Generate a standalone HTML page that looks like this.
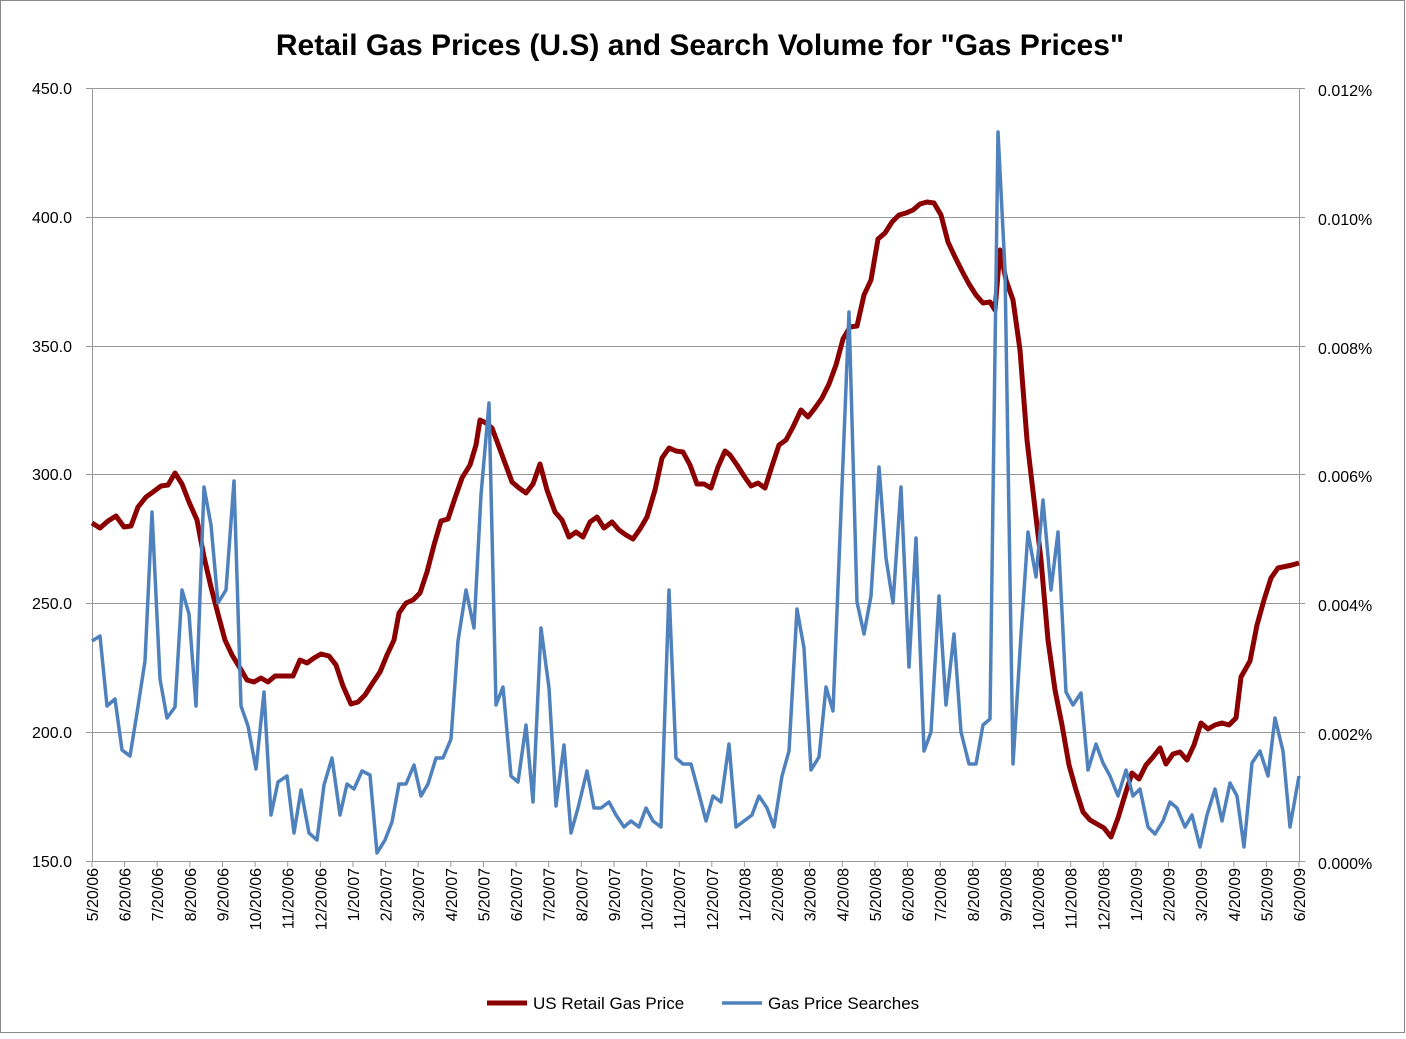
<!DOCTYPE html>
<html><head><meta charset="utf-8"><style>
body{margin:0;background:#fff;}
svg text{font-family:"Liberation Sans",Arial,sans-serif;}
</style></head><body>
<svg width="1406" height="1034" viewBox="0 0 1406 1034" xmlns="http://www.w3.org/2000/svg">
<rect x="0.5" y="0.5" width="1404" height="1032" fill="#fff" stroke="#888"/>
<text x="700" y="55" text-anchor="middle" font-size="30" font-weight="bold" fill="#000">Retail Gas Prices (U.S) and Search Volume for "Gas Prices"</text>
<g stroke="#999" stroke-width="1">
<line x1="92" y1="88.5" x2="1299" y2="88.5"/>
<line x1="92" y1="217.5" x2="1299" y2="217.5"/>
<line x1="92" y1="346.5" x2="1299" y2="346.5"/>
<line x1="92" y1="474.5" x2="1299" y2="474.5"/>
<line x1="92" y1="603.5" x2="1299" y2="603.5"/>
<line x1="92" y1="732.5" x2="1299" y2="732.5"/>
<line x1="92" y1="861.5" x2="1299" y2="861.5"/>
<line x1="92.5" y1="88" x2="92.5" y2="861"/>
<line x1="1299.5" y1="88" x2="1299.5" y2="861"/>
</g>
<g stroke="#999">
<line x1="86" y1="88.5" x2="92" y2="88.5"/><line x1="86" y1="217.5" x2="92" y2="217.5"/><line x1="86" y1="346.5" x2="92" y2="346.5"/><line x1="86" y1="474.5" x2="92" y2="474.5"/><line x1="86" y1="603.5" x2="92" y2="603.5"/><line x1="86" y1="732.5" x2="92" y2="732.5"/><line x1="86" y1="861.5" x2="92" y2="861.5"/>
<line x1="1299" y1="88.5" x2="1305" y2="88.5"/><line x1="1299" y1="217.5" x2="1305" y2="217.5"/><line x1="1299" y1="346.5" x2="1305" y2="346.5"/><line x1="1299" y1="474.5" x2="1305" y2="474.5"/><line x1="1299" y1="603.5" x2="1305" y2="603.5"/><line x1="1299" y1="732.5" x2="1305" y2="732.5"/><line x1="1299" y1="861.5" x2="1305" y2="861.5"/>
<line x1="92" y1="861" x2="92" y2="867"/><line x1="124.6" y1="861" x2="124.6" y2="867"/><line x1="157.2" y1="861" x2="157.2" y2="867"/><line x1="189.9" y1="861" x2="189.9" y2="867"/><line x1="222.5" y1="861" x2="222.5" y2="867"/><line x1="255.1" y1="861" x2="255.1" y2="867"/><line x1="287.7" y1="861" x2="287.7" y2="867"/><line x1="320.4" y1="861" x2="320.4" y2="867"/><line x1="353" y1="861" x2="353" y2="867"/><line x1="385.6" y1="861" x2="385.6" y2="867"/><line x1="418.2" y1="861" x2="418.2" y2="867"/><line x1="450.8" y1="861" x2="450.8" y2="867"/><line x1="483.5" y1="861" x2="483.5" y2="867"/><line x1="516.1" y1="861" x2="516.1" y2="867"/><line x1="548.7" y1="861" x2="548.7" y2="867"/><line x1="581.3" y1="861" x2="581.3" y2="867"/><line x1="614" y1="861" x2="614" y2="867"/><line x1="646.6" y1="861" x2="646.6" y2="867"/><line x1="679.2" y1="861" x2="679.2" y2="867"/><line x1="711.8" y1="861" x2="711.8" y2="867"/><line x1="744.4" y1="861" x2="744.4" y2="867"/><line x1="777.1" y1="861" x2="777.1" y2="867"/><line x1="809.7" y1="861" x2="809.7" y2="867"/><line x1="842.3" y1="861" x2="842.3" y2="867"/><line x1="874.9" y1="861" x2="874.9" y2="867"/><line x1="907.6" y1="861" x2="907.6" y2="867"/><line x1="940.2" y1="861" x2="940.2" y2="867"/><line x1="972.8" y1="861" x2="972.8" y2="867"/><line x1="1005.4" y1="861" x2="1005.4" y2="867"/><line x1="1038" y1="861" x2="1038" y2="867"/><line x1="1070.7" y1="861" x2="1070.7" y2="867"/><line x1="1103.3" y1="861" x2="1103.3" y2="867"/><line x1="1135.9" y1="861" x2="1135.9" y2="867"/><line x1="1168.5" y1="861" x2="1168.5" y2="867"/><line x1="1201.2" y1="861" x2="1201.2" y2="867"/><line x1="1233.8" y1="861" x2="1233.8" y2="867"/><line x1="1266.4" y1="861" x2="1266.4" y2="867"/><line x1="1299" y1="861" x2="1299" y2="867"/>
</g>
<g font-size="16" text-anchor="end" fill="#000">
<text x="72" y="94">450.0</text><text x="72" y="223">400.0</text><text x="72" y="352">350.0</text><text x="72" y="480">300.0</text><text x="72" y="609">250.0</text><text x="72" y="738">200.0</text><text x="72" y="867">150.0</text>
</g>
<g font-size="16" text-anchor="start" fill="#000">
<text x="1318" y="96">0.012%</text><text x="1318" y="225">0.010%</text><text x="1318" y="354">0.008%</text><text x="1318" y="482">0.006%</text><text x="1318" y="611">0.004%</text><text x="1318" y="740">0.002%</text><text x="1318" y="869">0.000%</text>
</g>
<g font-size="16" fill="#000" text-anchor="end">
<text transform="translate(98,868) rotate(-90)">5/20/06</text>
<text transform="translate(130.6,868) rotate(-90)">6/20/06</text>
<text transform="translate(163.2,868) rotate(-90)">7/20/06</text>
<text transform="translate(195.9,868) rotate(-90)">8/20/06</text>
<text transform="translate(228.5,868) rotate(-90)">9/20/06</text>
<text transform="translate(261.1,868) rotate(-90)">10/20/06</text>
<text transform="translate(293.7,868) rotate(-90)">11/20/06</text>
<text transform="translate(326.4,868) rotate(-90)">12/20/06</text>
<text transform="translate(359,868) rotate(-90)">1/20/07</text>
<text transform="translate(391.6,868) rotate(-90)">2/20/07</text>
<text transform="translate(424.2,868) rotate(-90)">3/20/07</text>
<text transform="translate(456.8,868) rotate(-90)">4/20/07</text>
<text transform="translate(489.5,868) rotate(-90)">5/20/07</text>
<text transform="translate(522.1,868) rotate(-90)">6/20/07</text>
<text transform="translate(554.7,868) rotate(-90)">7/20/07</text>
<text transform="translate(587.3,868) rotate(-90)">8/20/07</text>
<text transform="translate(620,868) rotate(-90)">9/20/07</text>
<text transform="translate(652.6,868) rotate(-90)">10/20/07</text>
<text transform="translate(685.2,868) rotate(-90)">11/20/07</text>
<text transform="translate(717.8,868) rotate(-90)">12/20/07</text>
<text transform="translate(750.4,868) rotate(-90)">1/20/08</text>
<text transform="translate(783.1,868) rotate(-90)">2/20/08</text>
<text transform="translate(815.7,868) rotate(-90)">3/20/08</text>
<text transform="translate(848.3,868) rotate(-90)">4/20/08</text>
<text transform="translate(880.9,868) rotate(-90)">5/20/08</text>
<text transform="translate(913.6,868) rotate(-90)">6/20/08</text>
<text transform="translate(946.2,868) rotate(-90)">7/20/08</text>
<text transform="translate(978.8,868) rotate(-90)">8/20/08</text>
<text transform="translate(1011.4,868) rotate(-90)">9/20/08</text>
<text transform="translate(1044,868) rotate(-90)">10/20/08</text>
<text transform="translate(1076.7,868) rotate(-90)">11/20/08</text>
<text transform="translate(1109.3,868) rotate(-90)">12/20/08</text>
<text transform="translate(1141.9,868) rotate(-90)">1/20/09</text>
<text transform="translate(1174.5,868) rotate(-90)">2/20/09</text>
<text transform="translate(1207.2,868) rotate(-90)">3/20/09</text>
<text transform="translate(1239.8,868) rotate(-90)">4/20/09</text>
<text transform="translate(1272.4,868) rotate(-90)">5/20/09</text>
<text transform="translate(1305,868) rotate(-90)">6/20/09</text>
</g>
<polyline fill="none" stroke="#8b0000" stroke-width="5" stroke-linejoin="round" points="92,523 100,528 108,521 116,516 124,527 131,526 138,507 146,497 153,492 161,486 168,485 175,473 182,484 189,502 197,520 204,557 211,587 218,614 225,640 232,655 240,668 247,680 254,682 261,678 268,682 275,676 282,676 293,676 300,660 307,663 314,658 321,654 329,656 336,665 343,686 351,704 358,702 365,695 372,684 380,672 387,655 394,640 399,613 406,603 413,600 420,593 427,572 434,545 441,521 448,519 455,498 462,478 470,465 476,445 480,420 486,423 492,428 498,444 505,463 512,482 519,488 526,493 533,484 540,464 547,490 555,512 562,520 569,537 576,532 583,537 590,522 597,517 604,528 612,522 619,530 626,535 633,539 640,529 647,517 655,490 662,458 669,448 676,451 683,452 690,465 697,484 704,484 711,488 718,467 725,451 730,455 737,465 744,476 751,486 758,483 765,488 772,466 779,445 786,440 793,427 801,410 808,417 815,408 822,398 829,384 836,365 843,339 850,327 857,326 864,295 871,280 878,239 885,233 892,222 899,215 906,213 913,210 920,204 927,202 934,203 941,215 948,242 955,257 962,271 969,284 976,295 983,303 990,302 995,310 1000,250 1006,280 1013,300 1020,350 1027,440 1034,500 1041,560 1048,640 1055,690 1062,725 1069,765 1076,790 1083,812 1090,820 1097,824 1104,828 1111,837 1118,818 1125,795 1132,773 1139,779 1146,765 1153,757 1160,748 1166,764 1173,754 1180,752 1187,760 1194,745 1201,723 1208,729 1215,725 1222,723 1229,725 1236,718 1241,677 1250,661 1257,625 1264,600 1271,578 1278,568 1292,565 1299,563"/>
<polyline fill="none" stroke="#4f81bd" stroke-width="3.5" stroke-linejoin="round" points="92,641 100,636 107,706 115,699 122,750 130,756 137,713 145,661 152,512 160,679 167,718 175,707 182,590 189,614 196,706 204,487 211,525 218,603 226,590 234,481 241,706 248,726 256,769 264,692 271,815 278,782 287,776 294,833 301,790 309,833 317,840 324,785 332,758 340,815 347,784 354,789 362,771 370,775 377,853 385,840 392,822 399,784 406,784 414,765 421,796 428,784 436,758 443,758 451,739 458,641 466,590 474,628 481,495 489,403 496,705 503,687 511,776 518,782 526,725 533,802 541,628 549,688 556,806 564,745 571,833 578,808 587,771 594,808 601,808 609,802 616,815 624,827 631,821 639,827 646,808 653,821 661,827 669,590 676,758 683,764 691,764 698,790 706,821 713,796 721,802 729,744 736,827 744,821 752,815 759,796 767,808 774,827 782,776 789,751 797,609 804,648 811,770 819,757 826,687 833,711 849,312 857,602 864,634 871,596 879,467 886,558 893,603 901,487 909,667 916,538 924,751 931,732 939,596 946,705 954,634 961,732 969,764 976,764 983,725 990,719 998,132 1005,270 1013,764 1021,635 1028,532 1036,577 1043,500 1051,590 1058,532 1066,692 1073,705 1081,693 1088,770 1096,744 1103,763 1110,776 1118,796 1126,770 1133,796 1140,789 1148,827 1155,834 1163,821 1170,802 1177,808 1185,827 1192,815 1200,847 1207,815 1215,789 1222,821 1230,783 1237,796 1244,847 1252,763 1260,751 1268,776 1275,718 1283,751 1290,827 1299,776"/>
<line x1="487" y1="1003" x2="527" y2="1003" stroke="#8b0000" stroke-width="5"/>
<text x="533" y="1009" font-size="17">US Retail Gas Price</text>
<line x1="722" y1="1003" x2="762" y2="1003" stroke="#4f81bd" stroke-width="3.5"/>
<text x="768" y="1009" font-size="17">Gas Price Searches</text>
</svg>
</body></html>
